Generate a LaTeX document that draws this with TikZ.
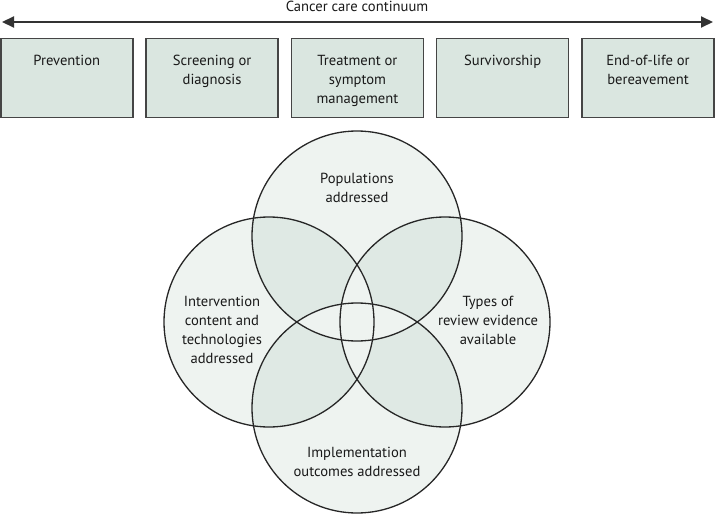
\documentclass[tikz,border=0pt]{standalone}
\usepackage{fontspec}
\setmainfont{PT Sans}
\usetikzlibrary{arrows.meta}
\definecolor{boxfill}{HTML}{DAE6E0}
\definecolor{circfill}{HTML}{EEF3F0}
\definecolor{lensfill}{HTML}{DFE9E4}
\definecolor{edge}{HTML}{454545}
\begin{document}
\begin{tikzpicture}[x=1pt,y=-1pt,
  stagebox/.style={draw=edge,line width=1.5pt,fill=boxfill,minimum width=132pt,minimum height=79pt,inner sep=0pt},
  lbl/.style={font=\fontsize{14.6}{19}\selectfont,align=center,inner sep=0pt,text=black!90},
  ring/.style={draw=black!85,line width=1.3pt},
  cont/.style={draw=black!80,line width=2pt,{Triangle[length=12pt,width=11pt]}-{Triangle[length=12pt,width=11pt]}}]
\useasboundingbox (0,0) rectangle (715,514);
% continuum arrow
\coordinate (aL) at (2,22);
\coordinate (aR) at (713,22);
\draw[cont] (aL) -- (aR);
\node[lbl,anchor=base] (title) at (357,11.5) {Cancer care continuum};
% stage boxes
\foreach \i/\x/\t in {1/66.8/Prevention,2/212.1/{Screening or\\diagnosis},3/357.4/{Treatment or\\symptom\\management},4/502.7/Survivorship,5/648/{End-of-life or\\bereavement}}{
  \node[stagebox] (b\i) at (\x,78) {};
  \node[lbl,anchor=north] (t\i) at ([yshift=-17pt]b\i.north) {\t};
}
% Venn
\def\R{105}
\coordinate (cT) at (357,236);
\coordinate (cL) at (269,322);
\coordinate (cRt) at (445,322);
\coordinate (cB) at (357,408);
\foreach \c in {cT,cL,cRt,cB}{\fill[circfill] (\c) circle (\R);}
% pairwise lenses
\foreach \a/\b in {cT/cL,cT/cRt,cB/cL,cB/cRt}{
  \begin{scope}\clip (\a) circle (\R); \fill[lensfill] (\b) circle (\R);\end{scope}
}
% triple regions light again
\foreach \a/\b/\c in {cT/cL/cRt,cT/cL/cB,cT/cRt/cB,cL/cRt/cB}{
  \begin{scope}\clip (\a) circle (\R); \clip (\b) circle (\R); \fill[circfill] (\c) circle (\R);\end{scope}
}
\node[ring,circle,minimum size=210pt,inner sep=0pt] (vT) at (cT) {};
\node[ring,circle,minimum size=210pt,inner sep=0pt] (vL) at (cL) {};
\node[ring,circle,minimum size=210pt,inner sep=0pt] (vR) at (cRt) {};
\node[ring,circle,minimum size=210pt,inner sep=0pt] (vB) at (cB) {};
\node[lbl,anchor=north] (pT) at (357,173) {Populations\\addressed};
\node[lbl,anchor=north] (pL) at (222,296) {Intervention\\content and\\technologies\\addressed};
\node[lbl,anchor=north] (pR) at (488,296) {Types of\\review evidence\\available};
\node[lbl,anchor=north] (pB) at (357,447) {Implementation\\outcomes addressed};
\end{tikzpicture}
\end{document}
